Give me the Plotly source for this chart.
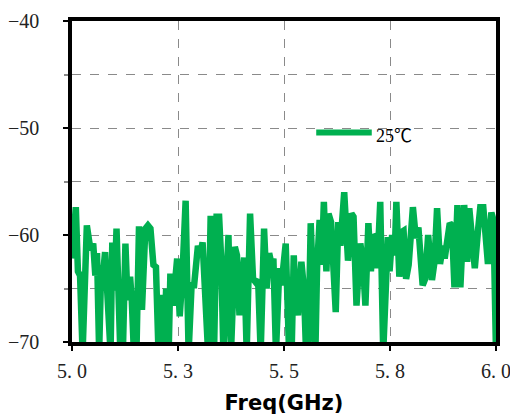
import plotly.graph_objects as go

freq_ghz = [
    5.000, 5.005, 5.009, 5.014, 5.019, 5.025, 5.035, 5.041, 5.045, 5.050,
    5.055, 5.059, 5.064, 5.069, 5.073, 5.078, 5.083, 5.086, 5.091, 5.095,
    5.100, 5.105, 5.110, 5.114, 5.120, 5.126, 5.131, 5.137, 5.141, 5.146,
    5.152, 5.158, 5.165, 5.173, 5.179, 5.185, 5.192, 5.198, 5.204, 5.211,
    5.217, 5.222, 5.228, 5.232, 5.238, 5.244, 5.248, 5.254, 5.260, 5.268,
    5.275, 5.282, 5.288, 5.297, 5.302, 5.308, 5.313, 5.317, 5.321, 5.327,
    5.335, 5.341, 5.347, 5.352, 5.357, 5.369, 5.375, 5.384, 5.389, 5.395,
    5.400, 5.406, 5.412, 5.420, 5.427, 5.433, 5.439, 5.445, 5.453, 5.459,
    5.465, 5.471, 5.475, 5.481, 5.489, 5.494, 5.504, 5.512, 5.518, 5.523,
    5.528, 5.533, 5.541, 5.547, 5.552, 5.557, 5.563, 5.569, 5.574, 5.578,
    5.584, 5.589, 5.594, 5.600, 5.605, 5.611, 5.617, 5.622, 5.628, 5.633,
    5.642, 5.648, 5.651, 5.659, 5.664, 5.671, 5.680, 5.686, 5.692, 5.699,
    5.705, 5.710, 5.715, 5.720, 5.727, 5.734, 5.740, 5.745, 5.749, 5.755,
    5.761, 5.765, 5.772, 5.778, 5.782, 5.788, 5.794, 5.804, 5.811, 5.817,
    5.827, 5.833, 5.840, 5.849, 5.855, 5.861, 5.868, 5.875, 5.879, 5.885,
    5.891, 5.896, 5.902, 5.909, 5.916, 5.925, 5.932, 5.937, 5.943, 5.950,
    5.958, 5.963, 5.970, 5.974, 5.981, 5.989, 5.994, 6.000,
]

level_25c_db = [
    -62.2, -59.4, -57.4, -63.4, -63.8, -71.0, -59.1, -60.7, -61.4, -60.8,
    -63.8, -61.7, -71.0, -62.8, -63.8, -61.6, -66.6, -71.0, -71.0, -60.7,
    -65.2, -59.4, -64.4, -71.0, -71.0, -60.8, -66.1, -63.9, -66.1, -71.0,
    -71.0, -59.2, -67.0, -59.4, -59.1, -59.4, -62.8, -63.0, -71.0, -65.6,
    -71.0, -65.0, -71.0, -63.6, -66.6, -62.4, -62.2, -67.6, -64.1, -56.8,
    -71.0, -64.7, -64.7, -61.0, -61.9, -60.7, -64.7, -71.0, -71.0, -58.2,
    -71.0, -58.3, -58.3, -62.4, -71.0, -60.0, -71.0, -61.1, -61.9, -67.5,
    -64.7, -62.1, -71.0, -58.0, -64.1, -64.4, -64.2, -71.0, -59.4, -65.0,
    -61.7, -62.8, -62.2, -71.0, -63.1, -64.7, -60.8, -71.0, -71.0, -61.9,
    -66.2, -67.5, -62.5, -65.0, -71.0, -71.0, -58.9, -63.6, -71.0, -63.1,
    -58.6, -62.8, -56.9, -63.4, -58.0, -58.8, -64.1, -67.2, -58.8, -61.0,
    -56.0, -59.4, -62.4, -58.0, -58.3, -66.6, -60.8, -62.5, -66.6, -58.9,
    -63.4, -60.0, -60.2, -63.1, -56.9, -71.0, -63.1, -60.2, -63.4, -60.0,
    -61.9, -56.9, -63.9, -59.7, -59.6, -64.1, -62.8, -57.4, -60.3, -59.3,
    -64.7, -64.1, -60.0, -64.2, -62.5, -57.5, -62.7, -61.0, -62.2, -60.7,
    -58.9, -59.1, -64.9, -57.2, -64.9, -57.2, -62.5, -57.5, -61.0, -63.1,
    -59.4, -57.4, -57.4, -59.4, -62.7, -57.9, -58.6, -71.0,
]

x_tickvals = [5.0, 5.25, 5.5, 5.75, 6.0]
x_ticktext = ["5. 0", "5. 3", "5. 5", "5. 8", "6. 0"]
y_tickvals = [-70, -60, -50, -40]
y_ticktext = ["\u221270", "\u221260", "\u221250", "\u221240"]
series_name = "25\u2103"
x_title = "Freq(GHz)"

green = "#00B050"
tick_font = dict(family="Liberation Serif, Noto Sans CJK SC, serif", size=20, color="#222222")

fig = go.Figure()
fig.add_trace(go.Scatter(
    x=freq_ghz, y=level_25c_db, mode="lines", name=series_name,
    line=dict(color=green, width=6.5), showlegend=False,
))

fig.update_layout(
    width=510, height=419,
    margin=dict(l=72, r=14, t=21, b=77),
    paper_bgcolor="white", plot_bgcolor="white",
    showlegend=False,
    xaxis=dict(
        range=[5.0, 6.0], tickvals=x_tickvals, ticktext=x_ticktext,
        automargin=False, ticklabeloverflow="allow",
        showgrid=True, gridcolor="#8a8a8a", griddash="dash", gridwidth=1,
        showline=True, linecolor="black", linewidth=3.5, mirror=True,
        ticks="outside", ticklen=5, tickwidth=1.5, tickcolor="black",
        tickfont=tick_font, ticklabelstandoff=3, zeroline=False,
        title=dict(text="<b>" + x_title + "</b>",
                   font=dict(family="DejaVu Sans", size=21, color="black"),
                   standoff=16),
    ),
    yaxis=dict(
        range=[-70, -40], tickvals=y_tickvals, ticktext=y_ticktext,
        automargin=False,
        showgrid=True, gridcolor="#8a8a8a", griddash="dash", gridwidth=1,
        minor=dict(dtick=5, tick0=-70, showgrid=True, gridcolor="#8a8a8a",
                   griddash="dash", gridwidth=1, ticks="outside", ticklen=4,
                   tickcolor="#8a8a8a"),
        showline=True, linecolor="black", linewidth=3.5, mirror=True,
        ticks="outside", ticklen=5, tickwidth=1.5, tickcolor="black",
        tickfont=tick_font, ticklabelstandoff=20, zeroline=False,
    ),
)

# legend drawn as a short line sample plus label
fig.add_shape(type="line", xref="paper", yref="paper",
              x0=0.576, x1=0.707, y0=0.653, y1=0.653,
              line=dict(color=green, width=6))
fig.add_annotation(xref="paper", yref="paper", x=0.712, y=0.643,
                   xanchor="left", yanchor="middle", showarrow=False,
                   text=series_name,
                   font=dict(family="Liberation Serif, Noto Sans CJK SC, serif",
                             size=18, color="black"))

fig.write_html("out.html")
